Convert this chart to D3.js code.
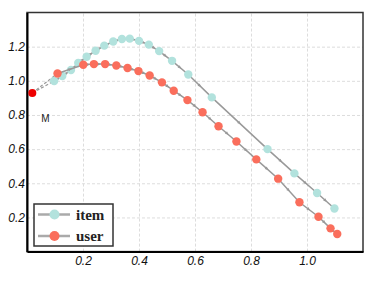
<!DOCTYPE html>
<html>
<head>
<meta charset="utf-8">
<script src="https://cdn.jsdelivr.net/npm/d3@7"></script>
<style>
  body { margin: 0; background: #fff; }
  svg { display: block; }
  .tick text { font-family: "Liberation Sans", Arial, sans-serif; font-style: italic; font-size: 12px; fill: #111; }
</style>
</head>
<body>
<script>
// item series (x, y)
var itemX = [0.097, 0.126, 0.157, 0.183, 0.213, 0.245, 0.276, 0.308, 0.339, 0.367, 0.400, 0.435, 0.472, 0.518, 0.576, 0.660, 0.859, 0.955, 1.036, 1.098];
var itemY = [0.999, 1.028, 1.063, 1.104, 1.141, 1.176, 1.206, 1.230, 1.245, 1.247, 1.234, 1.212, 1.174, 1.117, 1.037, 0.903, 0.600, 0.458, 0.343, 0.252];

// user series (x, y)
var userX = [0.109, 0.201, 0.239, 0.279, 0.319, 0.359, 0.398, 0.438, 0.482, 0.524, 0.573, 0.627, 0.684, 0.748, 0.819, 0.897, 0.973, 1.041, 1.084, 1.108];
var userY = [1.043, 1.094, 1.098, 1.098, 1.090, 1.075, 1.057, 1.031, 0.991, 0.942, 0.887, 0.816, 0.734, 0.645, 0.540, 0.427, 0.289, 0.204, 0.136, 0.103];

// the starting point M
var startPoint = { x: 0.019, y: 0.929, label: 'M' };

var xTicks = [0.2, 0.4, 0.6, 0.8, 1.0];
var yTicks = [0.2, 0.4, 0.6, 0.8, 1.0, 1.2];
var seriesNames = ['item', 'user'];
var seriesColors = ['#b2e2dd', '#fa6e5c'];

var width = 374, height = 284;
var margin = { top: 12.5, right: 11, bottom: 32.4, left: 27 };

var svg = d3.select('body').append('svg').attr('width', width).attr('height', height);

var x = d3.scaleLinear().domain([0, 1.2]).range([margin.left, width - margin.right]);
var y = d3.scaleLinear().domain([0, 1.4]).range([height - margin.bottom, margin.top]);

// grid
svg.append('g')
    .attr('transform', 'translate(0,' + (height - margin.bottom) + ')')
    .call(d3.axisBottom(x).tickValues(xTicks).tickSize(-(height - margin.top - margin.bottom)).tickFormat(''))
    .call(function (g) {
        g.select('.domain').remove();
        g.selectAll('line').attr('stroke', '#ddd').attr('stroke-dasharray', '3,2');
    });
svg.append('g')
    .attr('transform', 'translate(' + margin.left + ',0)')
    .call(d3.axisLeft(y).tickValues(yTicks).tickSize(-(width - margin.left - margin.right)).tickFormat(''))
    .call(function (g) {
        g.select('.domain').remove();
        g.selectAll('line').attr('stroke', '#ddd').attr('stroke-dasharray', '3,2');
    });

// frame
svg.append('rect')
    .attr('x', margin.left).attr('y', margin.top)
    .attr('width', width - margin.left - margin.right)
    .attr('height', height - margin.top - margin.bottom)
    .attr('fill', 'none').attr('stroke', '#333').attr('stroke-width', 1.5);

// axes
svg.append('g')
    .attr('transform', 'translate(0,' + (height - margin.bottom) + ')')
    .call(d3.axisBottom(x).tickValues(xTicks).tickSize(0).tickPadding(5).tickFormat(d3.format('.1f')))
    .call(function (g) {
        g.select('.domain').attr('stroke', '#000').attr('stroke-width', 2);
    });
svg.append('g')
    .attr('transform', 'translate(' + margin.left + ',0)')
    .call(d3.axisLeft(y).tickValues(yTicks).tickSize(0).tickPadding(2).tickFormat(d3.format('.1f')))
    .call(function (g) {
        g.select('.domain').attr('stroke', '#000').attr('stroke-width', 2);
    });

var series = [
    d3.zip(itemX, itemY),
    d3.zip(userX, userY)
];

// dashed links from M to first points
series.forEach(function (pts) {
    svg.append('line')
        .attr('x1', x(startPoint.x)).attr('y1', y(startPoint.y))
        .attr('x2', x(pts[0][0])).attr('y2', y(pts[0][1]))
        .attr('stroke', '#999').attr('stroke-width', 1.2).attr('stroke-dasharray', '3,2');
});

var line = d3.line().x(function (d) { return x(d[0]); }).y(function (d) { return y(d[1]); });

series.forEach(function (pts, k) {
    svg.append('path')
        .datum(pts)
        .attr('d', line)
        .attr('fill', 'none')
        .attr('stroke', '#999')
        .attr('stroke-width', 1.5);

    // little arrow heads in the middle of each segment
    svg.append('g').selectAll('path')
        .data(d3.pairs(pts))
        .enter()
        .append('path')
        .attr('d', 'M-2,-1.6L1.5,0L-2,1.6Z')
        .attr('fill', '#999')
        .attr('transform', function (p) {
            var x0 = x(p[0][0]), y0 = y(p[0][1]), x1 = x(p[1][0]), y1 = y(p[1][1]);
            var a = Math.atan2(y1 - y0, x1 - x0) * 180 / Math.PI;
            return 'translate(' + ((x0 + x1) / 2) + ',' + ((y0 + y1) / 2) + ') rotate(' + a + ')';
        });

    svg.append('g').selectAll('circle')
        .data(pts)
        .enter()
        .append('circle')
        .attr('cx', function (d) { return x(d[0]); })
        .attr('cy', function (d) { return y(d[1]); })
        .attr('r', 4.2)
        .attr('fill', seriesColors[k]);
});

// start point
svg.append('circle')
    .attr('cx', x(startPoint.x)).attr('cy', y(startPoint.y))
    .attr('r', 4).attr('fill', '#ee0000');
svg.append('text')
    .attr('x', x(startPoint.x) + 13).attr('y', y(startPoint.y) + 29.5)
    .attr('text-anchor', 'middle')
    .attr('font-family', 'Liberation Sans, Arial, sans-serif')
    .attr('font-size', 10)
    .attr('fill', '#222')
    .text(startPoint.label);

// legend
var legend = svg.append('g').attr('transform', 'translate(34,204)');
legend.append('rect')
    .attr('width', 79).attr('height', 42)
    .attr('fill', '#fff').attr('stroke', '#333').attr('stroke-width', 1.5);
seriesNames.forEach(function (name, i) {
    var ry = 10.5 + i * 21.5;
    legend.append('line')
        .attr('x1', 4).attr('x2', 36).attr('y1', ry).attr('y2', ry)
        .attr('stroke', '#aaa').attr('stroke-width', 2.5);
    legend.append('circle')
        .attr('cx', 20.5).attr('cy', ry).attr('r', 5)
        .attr('fill', seriesColors[i]);
    legend.append('text')
        .attr('x', 42).attr('y', ry + 5)
        .attr('font-family', 'Liberation Serif, Times New Roman, serif')
        .attr('font-size', 15)
        .attr('font-weight', 'bold')
        .attr('fill', '#222')
        .text(name);
});
</script>
</body>
</html>
